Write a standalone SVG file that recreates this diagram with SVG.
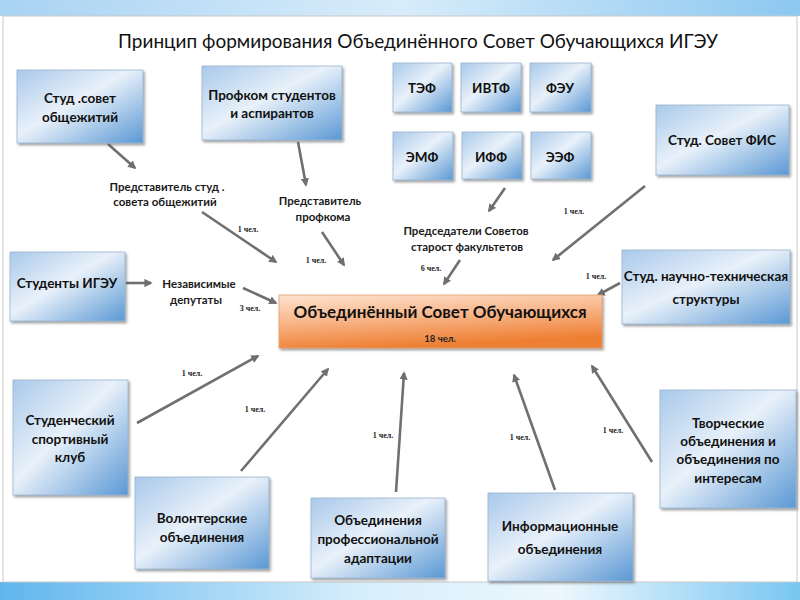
<svg xmlns="http://www.w3.org/2000/svg" width="800" height="600" viewBox="0 0 800 600">
<defs>
<linearGradient id="topband" x1="0" y1="0" x2="1" y2="0">
<stop offset="0" stop-color="#a9d3f3"/><stop offset="0.5" stop-color="#d8ecfa"/><stop offset="1" stop-color="#8cc8f0"/>
</linearGradient>
<linearGradient id="botband" x1="0" y1="0" x2="1" y2="0">
<stop offset="0" stop-color="#5fb6ee"/><stop offset="0.45" stop-color="#d6eefb"/><stop offset="0.7" stop-color="#ecf7fd"/><stop offset="1" stop-color="#78c6f2"/>
</linearGradient>
<linearGradient id="blue" x1="0" y1="0" x2="1" y2="1">
<stop offset="0" stop-color="#a9c9ea"/><stop offset="0.45" stop-color="#e9f1fa"/><stop offset="1" stop-color="#5a98d4"/>
</linearGradient>
<linearGradient id="orange" x1="0" y1="0" x2="0.3" y2="1">
<stop offset="0" stop-color="#fde3d0"/><stop offset="0.5" stop-color="#f8b487"/><stop offset="1" stop-color="#ee7f32"/>
</linearGradient>
<marker id="ah" viewBox="0 0 10 10" refX="8" refY="5" markerWidth="3.2" markerHeight="3.2" orient="auto">
<path d="M0,0 L10,5 L0,10 Z" fill="#6f6f6f"/>
</marker>
<filter id="sh" x="-10%" y="-10%" width="130%" height="130%">
<feDropShadow dx="1.5" dy="2" stdDeviation="1" flood-color="#555" flood-opacity="0.55"/>
</filter>
</defs>
<style>
.box{fill:url(#blue);stroke:#9ab5cf;stroke-width:0.8;filter:url(#sh)}
.t{font-family:Lato,"Open Sans","Liberation Sans",sans-serif;font-weight:700;font-size:13.5px;fill:#111;text-anchor:middle}
.l{font-family:Lato,"Open Sans","Liberation Sans",sans-serif;font-weight:700;font-size:11.5px;fill:#1a1a1a;text-anchor:middle}
.s{font-family:"Liberation Serif",serif;font-weight:700;font-size:8px;fill:#222;text-anchor:middle}
.c{stroke:#707070;stroke-width:2.6;fill:none;marker-end:url(#ah)}
</style>
<rect x="0" y="0" width="800" height="600" fill="#ffffff"/>
<rect x="0" y="0" width="800" height="16" fill="url(#topband)"/>
<rect x="0" y="582" width="800" height="18" fill="url(#botband)"/>
<rect x="3" y="16" width="794" height="566" fill="#ffffff" stroke="#c8c8c8" stroke-width="1"/>
<text x="418" y="48" font-family="Lato,'Open Sans','Liberation Sans',sans-serif" font-size="20" fill="#111" text-anchor="middle" textLength="600" lengthAdjust="spacingAndGlyphs">Принцип формирования Объединённого Совет Обучающихся ИГЭУ</text>

<g id="connectors">
<line class="c" x1="108" y1="144" x2="135" y2="168"/>
<line class="c" x1="298" y1="142" x2="306" y2="185"/>
<line class="c" x1="202" y1="212" x2="276" y2="262"/>
<line class="c" x1="322" y1="232" x2="344" y2="265"/>
<line class="c" x1="505" y1="188" x2="489" y2="211"/>
<line class="c" x1="460" y1="260" x2="444" y2="284"/>
<line class="c" x1="645" y1="186" x2="553" y2="260"/>
<line class="c" x1="620" y1="283" x2="598" y2="295"/>
<line class="c" x1="126" y1="283" x2="151" y2="283"/>
<line class="c" x1="243" y1="288" x2="276" y2="303"/>
<line class="c" x1="137" y1="423" x2="258" y2="356"/>
<line class="c" x1="241" y1="471" x2="328" y2="369"/>
<line class="c" x1="396" y1="492" x2="404" y2="373"/>
<line class="c" x1="555" y1="490" x2="514" y2="375"/>
<line class="c" x1="652" y1="462" x2="592" y2="366"/>
</g>

<g id="labels">
<text class="l" x="167" y="191">Представитель студ .</text>
<text class="l" x="165" y="206">совета общежитий</text>
<text class="l" x="320" y="205">Представитель</text>
<text class="l" x="323" y="221">профкома</text>
<text class="l" x="466" y="235">Председатели Советов</text>
<text class="l" x="467" y="251">старост факультетов</text>
<text class="l" x="199" y="288">Независимые</text>
<text class="l" x="196" y="304">депутаты</text>
<text class="s" x="248" y="232">1 чел.</text>
<text class="s" x="316" y="263">1 чел.</text>
<text class="s" x="431" y="271">6 чел.</text>
<text class="s" x="574" y="214">1 чел.</text>
<text class="s" x="596" y="279">1 чел.</text>
<text class="s" x="250" y="311">3 чел.</text>
<text class="s" x="192" y="376">1 чел.</text>
<text class="s" x="255" y="412">1 чел.</text>
<text class="s" x="383" y="438">1 чел.</text>
<text class="s" x="520" y="440">1 чел.</text>
<text class="s" x="613" y="433">1 чел.</text>
</g>

<g id="n-obshch"><rect class="box" x="17" y="70" width="126" height="73"/><text class="t" x="80" y="103">Студ .совет</text><text class="t" x="80" y="122">общежитий</text></g>
<g id="n-profkom"><rect class="box" x="202" y="66" width="140" height="74"/><text class="t" x="272" y="100">Профком студентов</text><text class="t" x="272" y="118">и аспирантов</text></g>
<g id="n-tef"><rect class="box" x="393" y="63" width="59" height="49"/><text class="t" x="422" y="93">ТЭФ</text></g>
<g id="n-ivtf"><rect class="box" x="461" y="63" width="60" height="49"/><text class="t" x="491" y="93">ИВТФ</text></g>
<g id="n-feu"><rect class="box" x="530" y="63" width="61" height="49"/><text class="t" x="560" y="93">ФЭУ</text></g>
<g id="n-emf"><rect class="box" x="393" y="132" width="60" height="48"/><text class="t" x="422" y="162">ЭМФ</text></g>
<g id="n-iff"><rect class="box" x="462" y="132" width="60" height="47"/><text class="t" x="491" y="162">ИФФ</text></g>
<g id="n-eef"><rect class="box" x="531" y="132" width="60" height="47"/><text class="t" x="560" y="162">ЭЭФ</text></g>
<g id="n-fis"><rect class="box" x="656" y="105" width="133" height="70"/><text class="t" x="722" y="145">Студ. Совет ФИС</text></g>
<g id="n-students"><rect class="box" x="10" y="252" width="115" height="69"/><text class="t" x="67" y="288">Студенты ИГЭУ</text></g>
<g id="n-nts"><rect class="box" x="622" y="250" width="168" height="74"/><text class="t" x="706" y="281">Студ. научно-техническая</text><text class="t" x="706" y="304">структуры</text></g>
<g id="n-center"><rect x="279" y="295" width="323" height="53" fill="url(#orange)" stroke="#e0a070" stroke-width="0.8" filter="url(#sh)"/><text x="440" y="318" font-family="Lato,'Open Sans','Liberation Sans',sans-serif" font-weight="700" font-size="17" fill="#111" text-anchor="middle">Объединённый Совет Обучающихся</text><text x="440" y="342" font-family="Lato,'Open Sans','Liberation Sans',sans-serif" font-weight="700" font-size="9.5" fill="#222" text-anchor="middle">18 чел.</text></g>
<g id="n-sport"><rect class="box" x="13" y="380" width="115" height="115"/><text class="t" x="70" y="425">Студенческий</text><text class="t" x="70" y="444">спортивный</text><text class="t" x="70" y="462">клуб</text></g>
<g id="n-volunteer"><rect class="box" x="135" y="477" width="134" height="92"/><text class="t" x="202" y="523">Волонтерские</text><text class="t" x="202" y="542">объединения</text></g>
<g id="n-prof"><rect class="box" x="311" y="498" width="134" height="80"/><text class="t" x="378" y="525">Объединения</text><text class="t" x="378" y="544">профессиональной</text><text class="t" x="378" y="563">адаптации</text></g>
<g id="n-info"><rect class="box" x="488" y="493" width="145" height="88"/><text class="t" x="560" y="531">Информационные</text><text class="t" x="560" y="554">объединения</text></g>
<g id="n-creative"><rect class="box" x="660" y="390" width="136" height="118"/><text class="t" x="728" y="428">Творческие</text><text class="t" x="728" y="446">объединения и</text><text class="t" x="728" y="464">объединения по</text><text class="t" x="728" y="483">интересам</text></g>
</svg>
